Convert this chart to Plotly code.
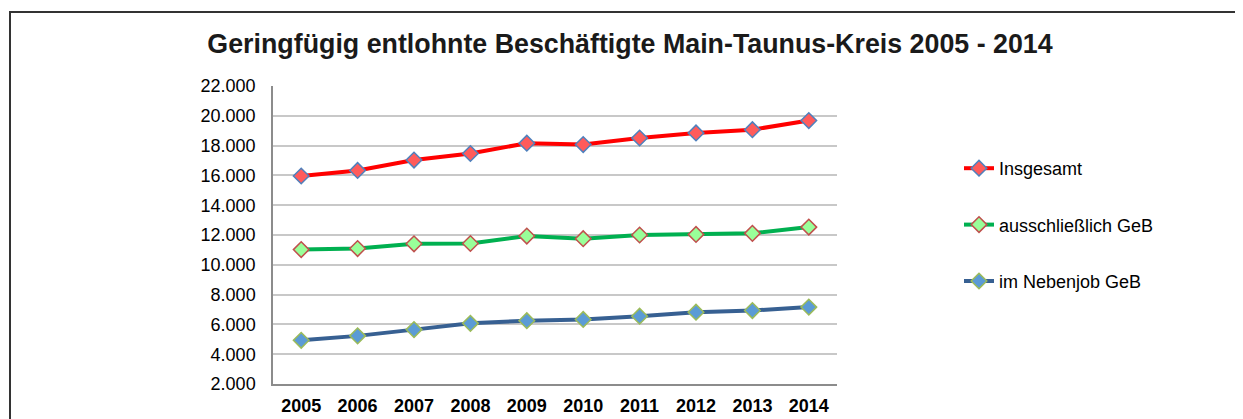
import plotly.graph_objects as go

years = ["2005", "2006", "2007", "2008", "2009", "2010", "2011", "2012", "2013", "2014"]
insgesamt = [15960, 16330, 17030, 17470, 18160, 18070, 18510, 18850, 19070, 19680]
ausschl = [11020, 11090, 11410, 11430, 11930, 11750, 12000, 12040, 12110, 12530]
neben = [4930, 5230, 5650, 6070, 6250, 6330, 6550, 6820, 6930, 7160]
y_ticks = [2000, 4000, 6000, 8000, 10000, 12000, 14000, 16000, 18000, 20000, 22000]

OFF = 8  # page body margin
W, H = 1243 - OFF, 419 - OFF
L, R, T, B = 273 - OFF, 837 - OFF, 86 - OFF, 384 - OFF

fig = go.Figure()
series = [
    ("Insgesamt", insgesamt, "#FF0000", "#FF5B5B", "#4F81BD"),
    ("ausschließlich GeB", ausschl, "#00B050", "#99FF99", "#C0504D"),
    ("im Nebenjob GeB", neben, "#376092", "#5B9BD5", "#9BBB59"),
]
for i, (name, vals, lc, mf, ml) in enumerate(series):
    fig.add_trace(go.Scatter(
        x=years, y=vals, name=name, mode="lines+markers",
        legendgroup=f"g{i}",
        line=dict(color=lc, width=4),
        marker=dict(symbol="diamond", size=12, color=mf, line=dict(color=ml, width=1.5)),
    ))

def px_x(px):
    return (px - OFF - L) / (R - L)

def px_y(py):
    return (B - (py - OFF)) / (B - T)

fig.add_shape(type="rect", xref="paper", yref="paper",
              x0=px_x(10), x1=px_x(1270), y0=px_y(460), y1=px_y(12),
              line=dict(color="#333333", width=2), layer="below")

fig.update_layout(
    width=W, height=H,
    margin=dict(l=L, r=W - R, t=T, b=H - B, pad=0, autoexpand=False),
    paper_bgcolor="white", plot_bgcolor="white",
    separators=",.",
    font=dict(family="Liberation Sans, Arial, sans-serif", color="#000000"),
    title=dict(text="<b>Geringfügig entlohnte Beschäftigte Main-Taunus-Kreis 2005 - 2014</b>",
               x=(630 - OFF) / W, xanchor="center", xref="container",
               y=1 - (44 - OFF) / H, yanchor="middle", yref="container",
               automargin=False,
               font=dict(size=26.8, color="#1A1A1A")),
    showlegend=True,
    legend=dict(x=px_x(959), xanchor="left", y=px_y(150), yanchor="top",
                font=dict(size=18, color="#000000"), tracegroupgap=30,
                bgcolor="rgba(0,0,0,0)", itemwidth=30),
    xaxis=dict(type="category", range=[-0.5, 9.5], showgrid=False,
               showline=True, linecolor="#8C8C8C", linewidth=1.5,
               ticks="", tickfont=dict(size=18, weight="bold", color="#000000"),
               ticklabelstandoff=5, fixedrange=True, automargin=False),
    yaxis=dict(range=[2000, 22000], tickvals=y_ticks, tickformat=",",
               showgrid=True, gridcolor="#C8C8C8", gridwidth=1.5,
               showline=True, linecolor="#8C8C8C", linewidth=1.5,
               zeroline=False, ticks="", ticklabelstandoff=12,
               tickfont=dict(size=18, color="#000000"), fixedrange=True,
               automargin=False),
)

fig.write_html("out.html")
